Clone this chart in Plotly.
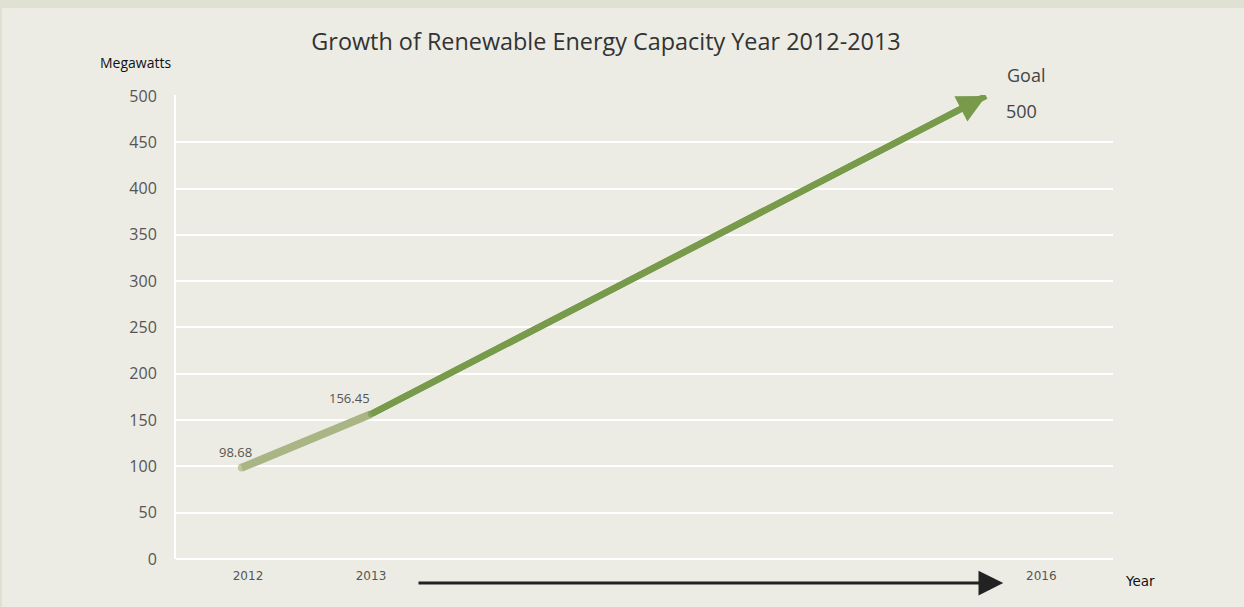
import plotly.graph_objects as go

# Data
years = ["2012", "2013", "2016"]
tick_pos = [0, 1, 6.45]
actual_x = [-0.05, 1]
actual_y = [98.68, 156.45]
goal_x = [1, 6]
goal_y = [156.45, 500]
y_ticks = [0, 50, 100, 150, 200, 250, 300, 350, 400, 450, 500]

BG = "#ecece4"
BAND = "#dfe1d3"
LIGHT = "#a9b585"
DARK = "#789a4b"

L, R, T, B = 176, 131, 95, 48
W, H = 1244, 607
pw, ph = W - L - R, H - T - B

def px(xp):
    return (xp - L) / pw

def py(yp):
    return (H - B - yp) / ph

fig = go.Figure()

fig.add_trace(go.Scatter(
    x=actual_x, y=actual_y, mode="lines+markers",
    line=dict(color=LIGHT, width=8),
    marker=dict(size=[8, 0], color=LIGHT, line=dict(width=0)),
    hoverinfo="skip", showlegend=False,
))
fig.add_trace(go.Scatter(
    x=goal_x, y=goal_y, mode="lines+markers",
    line=dict(color=DARK, width=6.5),
    marker=dict(size=[6.5, 0], color=DARK, line=dict(width=0)),
    hoverinfo="skip", showlegend=False,
))

annos = []
# green arrowhead along the goal path
annos.append(dict(x=goal_x[-1], y=goal_y[-1], xref="x", yref="y",
                  ax=goal_x[0], ay=goal_y[0], axref="x", ayref="y",
                  text="", showarrow=True, arrowhead=2, arrowsize=0.87, arrowwidth=6.5,
                  arrowcolor=DARK))
for xv, yv, xs in zip(actual_x, actual_y, [-6, -22]):
    annos.append(dict(x=xv, y=yv, xref="x", yref="y", text=f"{yv:.2f}", showarrow=False,
                      xshift=xs, yshift=16, font=dict(family="Open Sans", size=13, color="#555")))
annos.append(dict(x=goal_x[-1], y=goal_y[-1], xref="x", yref="y", text="Goal", showarrow=False,
                  xshift=40, yshift=21, font=dict(family="Open Sans", size=18, color="#444")))
annos.append(dict(x=goal_x[-1], y=goal_y[-1], xref="x", yref="y", text=f"{goal_y[-1]:g}", showarrow=False,
                  xshift=35, yshift=-15, font=dict(family="Open Sans", size=18, color="#444")))
annos.append(dict(x=px(135), y=py(62), xref="paper", yref="paper", text="Megawatts", showarrow=False,
                  xanchor="center", yanchor="middle",
                  font=dict(family="Open Sans", size=14, color="#111")))
annos.append(dict(x=px(1140), y=py(581), xref="paper", yref="paper", text="Year", showarrow=False,
                  xanchor="center", yanchor="middle",
                  font=dict(family="DejaVu Sans", size=13.5, color="#111")))
# timeline arrow
annos.append(dict(x=6.14, y=py(583), xref="x", yref="y domain",
                  ax=1.374, ay=py(583), axref="x", ayref="y domain",
                  text="", showarrow=True, arrowhead=2, arrowsize=1.65, arrowwidth=3,
                  arrowcolor="#222"))

fig.update_layout(
    width=W, height=H,
    margin=dict(l=L, r=R, t=T, b=B),
    paper_bgcolor=BAND,
    plot_bgcolor=BG,
    title=dict(text="Growth of Renewable Energy Capacity Year 2012-2013",
               x=606 / W, xanchor="center", y=1 - 42 / H, yanchor="middle",
               font=dict(family="Open Sans", size=23.4, color="#333")),
    shapes=[dict(type="rect", xref="paper", yref="paper", x0=px(2), x1=px(W + 5),
                 y0=py(H + 5), y1=py(8), fillcolor=BG, line=dict(width=0), layer="below")],
    annotations=annos,
    xaxis=dict(range=[(176 - 248) / 123, (1113 - 248) / 123], tickvals=tick_pos, ticktext=years,
               showgrid=False, zeroline=False, showline=False, ticks="",
               ticklabelstandoff=8,
               tickfont=dict(family="DejaVu Sans", size=12, color="#555")),
    yaxis=dict(range=[0, 501], tickvals=y_ticks, showgrid=True, gridcolor="white", gridwidth=1.5,
               zeroline=True, zerolinecolor="white", zerolinewidth=2,
               showline=True, linecolor="white", linewidth=2, ticks="",
               ticklabelstandoff=14,
               tickfont=dict(family="Open Sans", size=16, color="#555")),
)

fig.write_html("out.html")
